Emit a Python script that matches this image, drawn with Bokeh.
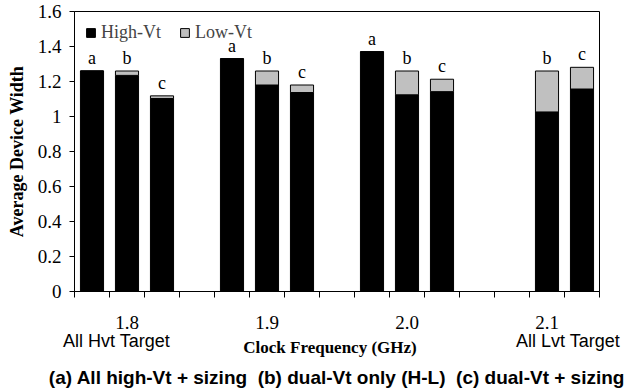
from bokeh.plotting import figure
from bokeh.models import Range1d, FixedTicker, ColumnDataSource, Legend, LegendItem, LinearAxis
from bokeh.core.properties import value
from bokeh.embed import file_html
from bokeh.resources import INLINE

# ---- data ----
groups = ["1.8", "1.9", "2.0", "2.1"]
configs = ["a", "b", "c"]
high_vt_18 = [1.26, 1.235, 1.103]
low_vt_18 = [0.0, 0.025, 0.015]
high_vt_19 = [1.33, 1.18, 1.137]
low_vt_19 = [0.0, 0.08, 0.043]
high_vt_20 = [1.37, 1.124, 1.142]
low_vt_20 = [0.0, 0.136, 0.071]
high_vt_21 = [None, 1.026, 1.157]
low_vt_21 = [None, 0.234, 0.124]
group_notes = ["All Hvt Target", "All Lvt Target"]
y_ticks = [0, 0.2, 0.4, 0.6, 0.8, 1, 1.2, 1.4, 1.6]
y_tick_labels = ["0", "0.2", "0.4", "0.6", "0.8", "1", "1.2", "1.4", "1.6"]
x_title = "Clock Frequency (GHz)"
y_title = "Average Device Width"
caption_parts = ["(a) All high-Vt + sizing", "(b) dual-Vt only (H-L)", "(c) dual-Vt + sizing"]
caption = " \u00a0".join(caption_parts)

highs = [high_vt_18, high_vt_19, high_vt_20, high_vt_21]
lows = [low_vt_18, low_vt_19, low_vt_20, low_vt_21]

xs, hs, ls, tops, labs = [], [], [], [], []
for gi, g in enumerate(groups):
    for ci, c in enumerate(configs):
        h = highs[gi][ci]
        l = lows[gi][ci]
        if h is None:
            continue
        xs.append(gi * 4 + ci + 0.5)
        hs.append(h)
        ls.append(l)
        tops.append(h + l)
        labs.append(c)

src = ColumnDataSource(dict(x=xs, high=hs, low=ls, top=tops, lab=labs))

SERIF = "Liberation Serif"
SANS = "Liberation Sans"

p = figure(width=624, height=390, output_backend="svg", toolbar_location=None,
           x_range=Range1d(0, 15), y_range=Range1d(0, 1.6),
           min_border_left=74, min_border_right=25, min_border_top=11, min_border_bottom=97)
p.grid.visible = False
p.outline_line_color = "black"
p.outline_line_width = 1
p.background_fill_color = "white"
p.border_fill_color = "white"

r = p.vbar_stack(["high", "low"], x="x", width=0.66, source=src,
                 fill_color=["black", "#c0c0c0"], line_color="black", line_width=1)

p.text(x="x", y="top", text="lab", source=src, text_font=value(SERIF),
       text_font_size="18px", text_align="center", text_baseline="bottom", y_offset=-3,
       text_color="black")

# y axis
p.yaxis.ticker = FixedTicker(ticks=y_ticks, minor_ticks=[])
p.yaxis.major_label_overrides = {t: s for t, s in zip(y_ticks, y_tick_labels)}
p.yaxis.major_label_text_font = SERIF
p.yaxis.major_label_text_font_size = "19px"
p.yaxis.major_label_text_color = "black"
p.yaxis.major_tick_out = 5
p.yaxis.major_tick_in = 0
p.yaxis.major_label_standoff = 8
p.yaxis.axis_label = y_title
p.yaxis.axis_label_text_font = SERIF
p.yaxis.axis_label_text_font_size = "18px"
p.yaxis.axis_label_text_font_style = "bold"
p.yaxis.axis_label_text_color = "black"
p.yaxis.axis_label_standoff = 8
p.yaxis.axis_line_color = "black"

# main x axis
centers = [gi * 4 + 1.5 for gi in range(len(groups))]
p.xaxis.ticker = FixedTicker(ticks=centers, minor_ticks=list(range(0, 16)))
p.xaxis.major_label_overrides = {c: g for c, g in zip(centers, groups)}
p.xaxis.major_tick_out = 0
p.xaxis.major_tick_in = 0
p.xaxis.minor_tick_out = 6
p.xaxis.minor_tick_in = 0
p.xaxis.major_label_standoff = 18
p.xaxis.major_label_text_font = SERIF
p.xaxis.major_label_text_font_size = "19px"
p.xaxis.major_label_text_color = "black"
p.xaxis.axis_line_color = "black"

# notes axis
note_pos = [centers[0] - 0.3, centers[-1] + 0.6]
ax_notes = LinearAxis(ticker=FixedTicker(ticks=note_pos, minor_ticks=[]),
                      major_label_overrides={t: s for t, s in zip(note_pos, group_notes)},
                      axis_line_color=None, major_tick_line_color=None, minor_tick_line_color=None,
                      major_tick_out=0, major_tick_in=0, minor_tick_out=0, minor_tick_in=0,
                      major_label_standoff=-1, major_label_text_font=SANS,
                      major_label_text_font_size="18px", major_label_text_color="black")
p.add_layout(ax_notes, "below")

# x title + caption axis
title_pos = [7.3]
ax_title = LinearAxis(ticker=FixedTicker(ticks=title_pos, minor_ticks=[]),
                      major_label_overrides={title_pos[0]: x_title},
                      axis_line_color=None, major_tick_line_color=None, minor_tick_line_color=None,
                      major_tick_out=0, major_tick_in=0, minor_tick_out=0, minor_tick_in=0,
                      major_label_standoff=-16, major_label_text_font=SERIF,
                      major_label_text_font_style="bold",
                      major_label_text_font_size="17px", major_label_text_color="black",
                      axis_label=caption, axis_label_text_font=SANS,
                      axis_label_text_font_style="bold", axis_label_text_font_size="19px",
                      axis_label_text_color="black", axis_label_standoff=7)
p.add_layout(ax_title, "below")

# legend
legend = Legend(items=[LegendItem(label="High-Vt", renderers=[r[0]]),
                       LegendItem(label="Low-Vt", renderers=[r[1]])],
                orientation="horizontal", location="top_left",
                label_text_font=SERIF, label_text_font_size="18px",
                glyph_width=11, glyph_height=11, label_standoff=5, spacing=18,
                margin=11, padding=0, border_line_color=None,
                background_fill_alpha=0)
p.add_layout(legend)

open("out.html", "w").write(file_html(p, INLINE))
